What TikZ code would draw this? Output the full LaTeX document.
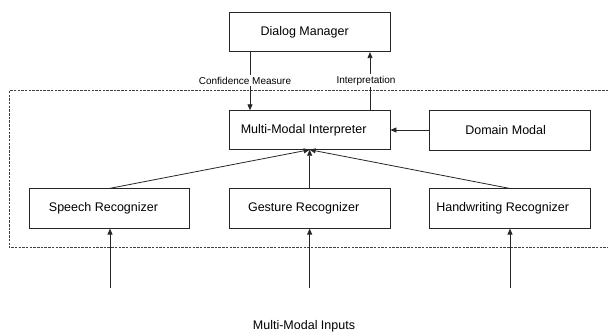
\documentclass[tikz,border=0pt]{standalone}
\usepackage{fontspec}
\setmainfont{Liberation Sans}
\usetikzlibrary{arrows.meta}
\begin{document}
\begin{tikzpicture}[x=1pt,y=-1pt,
  box/.style={draw=black!85, line width=0.8pt, minimum width=160.7pt, minimum height=39.4pt, inner sep=0pt,
    font=\fontsize{12.5}{15}\selectfont},
  arr/.style={draw=black!85, line width=0.8pt, -{Triangle[length=6pt,width=5pt]}},
  ln/.style={draw=black!85, line width=0.8pt},
  lbl/.style={fill=white, inner sep=2pt, font=\fontsize{10}{12}\selectfont},
  dashbox/.style={draw=black!75, line width=0.7pt, dash pattern=on 2.5pt off 1.2pt}]
\useasboundingbox (0,0) rectangle (608,333);
% dashed region
\draw[dashbox] (612,90.7) -- (9,90.7) -- (9,247.7) -- (612,247.7);
% nodes
\node[box] (dm) at (309.65,32) {\hspace*{-10pt}Dialog Manager};
\node[box, minimum height=38.6pt] (mmi) at (309.65,130) {\hspace*{-12pt}Multi-Modal Interpreter};
\node[box] (dom) at (509.65,130.3) {\hspace*{-8pt}Domain Modal};
\node[box] (sp) at (109.5,208.5) {\hspace*{-12pt}Speech Recognizer};
\node[box] (ge) at (309.65,208.5) {\hspace*{-12pt}Gesture Recognizer};
\node[box] (hw) at (509.65,208.5) {\hspace*{-14pt}Handwriting Recognizer};
% dialog links
\draw[arr] (dm.south -| 250,0) -- (mmi.north -| 250,0);
\draw[arr] (mmi.north -| 370,0) -- (dm.south -| 370,0);
\node[lbl] (cm) at (245,80.7) {Confidence Measure};
\node[lbl] (ip) at (366,80.7) {Interpretation};
% domain
\draw[arr] (dom.west |- 0,130) -- (mmi.east |- 0,130);
% recognizers to interpreter
\draw[arr] (sp.north) -- (mmi.south);
\draw[arr] (ge.north) -- (mmi.south);
\draw[arr] (hw.north) -- (mmi.south);
% inputs
\coordinate (in1) at (110,287.7);
\coordinate (in2) at (309.65,287.7);
\coordinate (in3) at (510,287.7);
\draw[arr] (in1) -- (sp.south -| in1);
\draw[arr] (in2) -- (ge.south);
\draw[arr] (in3) -- (hw.south -| in3);
\node[font=\fontsize{12.5}{15}\selectfont] (inputs) at (304,326.7) {Multi-Modal Inputs};
\end{tikzpicture}
\end{document}
